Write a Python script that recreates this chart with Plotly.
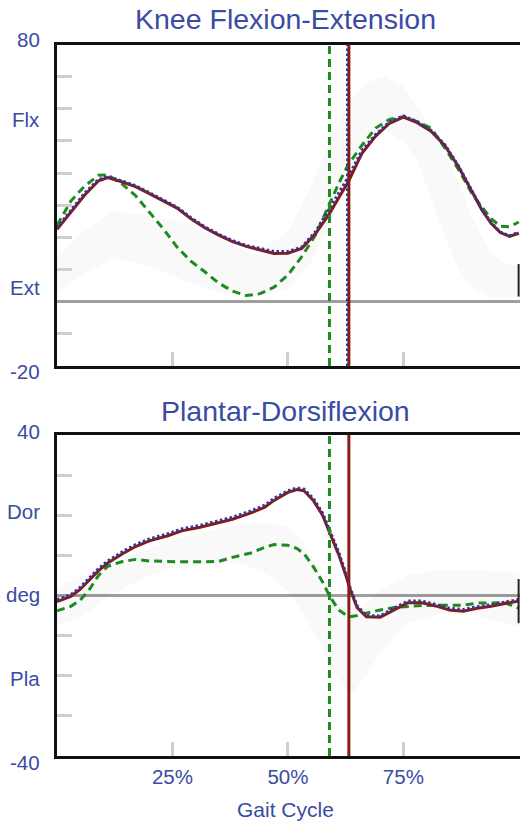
import plotly.graph_objects as go

# ---------------- data ----------------
# Knee flexion-extension (deg) vs gait cycle (%)
knee_x = [0, 3, 6, 9, 11, 14, 17, 20, 23, 26, 29, 32, 35, 38, 41, 44, 47, 50, 53, 56,
          59, 61, 63, 66, 69, 72, 75, 78, 81, 84, 87, 90, 92, 94, 96, 98, 100]
knee_red = [22.5, 27.7, 33.2, 37.6, 38.6, 37.3, 35.8, 33.6, 31.4, 29.1, 25.8, 23.0, 20.7, 18.7,
            17.2, 16.2, 15.0, 15.1, 16.6, 21.2, 27.4, 32.3, 37.1, 46.1, 51.5, 55.5, 57.4, 55.7,
            53.0, 48.5, 41.8, 33.9, 28.5, 24.4, 21.5, 20.3, 21.3]
knee_blue = [23.0, 28.3, 33.8, 38.0, 39.0, 37.6, 36.1, 33.9, 31.7, 29.4, 26.1, 23.3, 21.0, 19.0,
             17.5, 16.5, 15.6, 15.6, 17.0, 21.8, 28.8, 33.8, 38.6, 47.0, 52.0, 55.9, 57.8, 56.0,
             53.3, 48.8, 42.1, 34.2, 28.8, 24.6, 21.6, 20.5, 21.6]
knee_green = [23.8, 31.3, 36.0, 39.3, 39.4, 36.7, 33.0, 28.0, 22.7, 17.0, 12.6, 9.3, 5.8, 3.3,
              1.9, 2.5, 4.5, 8.3, 14.0, 20.8, 30.5, 36.8, 42.5, 48.6, 54.0, 56.7, 57.5, 56.0,
              54.0, 47.8, 41.0, 33.3, 29.5, 25.8, 23.5, 23.3, 24.8]
knee_band_x = [0, 5, 12, 20, 27, 35, 43, 50, 55, 59, 63, 67, 71, 75, 78, 81, 84, 87, 90, 94, 97, 100]
knee_band_hi = [13.9, 21, 28, 27, 25, 19.5, 14.5, 22, 36, 50, 62, 68, 70, 67, 60.5, 54, 46, 37, 26, 15, 12, 11]
knee_band_lo = [2.7, 8, 13.5, 11, 6.8, 3, 1.6, 4, 12, 24, 38, 48, 53, 50, 44, 32, 20, 10, 4, 1.5, 1.2, 1.5]

# Ankle plantar-dorsiflexion (deg)
ankle_x = [0, 3, 5, 7, 9, 11, 14, 17, 20, 24, 27, 31, 35, 38, 42, 45, 47, 50, 52, 53.5, 55.5,
           57.5, 59, 61, 62.5, 63.5, 65, 67, 70, 73, 76, 79, 82, 85, 88, 91, 94, 97, 100]
ankle_red = [-1.5, -0.2, 1.5, 3.9, 6.2, 8.1, 10.3, 12.2, 13.6, 14.9, 16.1, 17.0, 18.1, 19.0, 20.6,
             22.0, 23.7, 25.7, 26.4, 26.1, 23.7, 20.0, 15.8, 10.2, 5.2, 1.4, -3.0, -5.3, -5.4,
             -3.5, -1.8, -1.8, -2.6, -3.6, -3.9, -3.2, -2.7, -2.0, -1.4]
ankle_blue = [-1.0, 0.2, 2.0, 4.4, 6.7, 8.6, 10.8, 12.7, 14.1, 15.4, 16.6, 17.5, 18.6, 19.5, 21.1,
              22.5, 24.2, 26.1, 26.8, 26.5, 24.2, 20.6, 16.4, 10.8, 5.7, 1.8, -2.6, -5.0, -5.1,
              -3.1, -1.4, -1.4, -2.2, -3.2, -3.5, -2.8, -2.3, -1.6, -1.0]
ankle_green = [-3.8, -2.7, -1.2, 1.5, 5.0, 7.3, 8.4, 9.0, 8.6, 8.4, 8.4, 8.4, 8.5, 9.5, 10.6,
               12.0, 12.7, 12.5, 11.7, 10.4, 7.2, 3.4, -0.1, -3.6, -4.8, -5.3, -5.0, -4.4, -3.6,
               -3.0, -2.7, -2.5, -2.4, -2.4, -2.4, -1.9, -1.8, -1.8, -3.2]
ankle_band_x = [0, 5, 11, 18, 25, 33, 40, 46, 50, 53, 56, 59, 62, 64, 67, 70, 76, 83, 90, 100]
ankle_band_hi = [2.2, 4.5, 8, 11, 13.8, 16, 18, 18, 17, 14, 8, 1, -3, -4, -2, 1.5, 5, 6.4, 6.5, 5.6]
ankle_band_lo = [-7.4, -5.5, -0.3, 4, 6.8, 7.8, 8, 5, 1, -4, -10, -17, -23, -24.4, -20, -14, -7, -4.4, -5, -7.8]

# gait events (% cycle)
event_green = 59.0
event_red = 63.2
event_blue = 62.8

x_ticks = [25, 50, 75]
x_ticktext = ["25%", "50%", "75%"]
knee_minor = [-10, 10, 20, 30, 40, 50, 60, 70]
ankle_minor = [-30, -20, -10, 10, 20, 30]
knee_labels = [("80", 81.6), ("Flx", 56.8), ("Ext", 4.3), ("-20", -21.6)]
ankle_labels = [("40", 40.8), ("Dor", 21.0), ("deg", 0.2), ("Pla", -20.7), ("-40", -41.5)]
titles = ["Knee Flexion-Extension", "Plantar-Dorsiflexion"]

# ---------------- style ----------------
RED = "#861c14"
BLUE = "#34349e"
GREEN = "#1f8a1f"
TXT = "#3a4ba3"
BAND = "rgba(0,0,0,0.022)"
FONT = "Liberation Sans, Arial, sans-serif"
DASH = "8px,5px"
DOT = "2.5px,2.5px"

W, H = 520, 822
L = 57
PW = W - L

fig = go.Figure()


def add_panel(xs, red, blue, green, bx, bhi, blo, xa, ya):
    fig.add_trace(go.Scatter(x=bx, y=blo, mode="lines", line=dict(width=0),
                             xaxis=xa, yaxis=ya, hoverinfo="skip"))
    fig.add_trace(go.Scatter(x=bx, y=bhi, mode="lines", line=dict(width=0), fill="tonexty",
                             fillcolor=BAND, xaxis=xa, yaxis=ya, hoverinfo="skip"))
    fig.add_trace(go.Scatter(x=xs, y=green, mode="lines",
                             line=dict(color=GREEN, width=3, dash=DASH), xaxis=xa, yaxis=ya))
    fig.add_trace(go.Scatter(x=xs, y=red, mode="lines",
                             line=dict(color=RED, width=3), xaxis=xa, yaxis=ya))
    fig.add_trace(go.Scatter(x=xs, y=blue, mode="lines",
                             line=dict(color=BLUE, width=3, dash=DOT), xaxis=xa, yaxis=ya))


add_panel(knee_x, knee_red, knee_blue, knee_green, knee_band_x, knee_band_hi, knee_band_lo, "x", "y")
add_panel(ankle_x, ankle_red, ankle_blue, ankle_green, ankle_band_x, ankle_band_hi, ankle_band_lo, "x2", "y2")

XR = [0, PW / 4.618]


def py(px):
    return 1 - px / H


YD1 = [py(366), py(44.5)]
YR1 = [-20, 80]
YD2 = [py(756), py(435)]
YR2 = [-40, 40]


def to_paper(v, dom, rng):
    return dom[0] + (v - rng[0]) / (rng[1] - rng[0]) * (dom[1] - dom[0])


xcommon = dict(range=XR, tickvals=x_ticks, ticks="inside", ticklen=14, tickwidth=3,
               tickcolor="#cfcfcf", showline=True, linewidth=3, linecolor="#111111",
               mirror=True, showgrid=False, zeroline=False, domain=[0, 1])
ycommon = dict(ticks="inside", ticklen=15, tickwidth=3, tickcolor="#cfcfcf",
               showticklabels=False, showline=True, linewidth=3, linecolor="#111111",
               showgrid=False, zeroline=True, zerolinecolor="#9e9e9e", zerolinewidth=3)

fig.update_layout(
    width=W, height=H,
    margin=dict(l=L, r=0, t=0, b=0),
    paper_bgcolor="white", plot_bgcolor="white",
    showlegend=False,
    font=dict(family=FONT, color=TXT),
    xaxis=dict(anchor="y", showticklabels=False, **xcommon),
    yaxis=dict(anchor="x", domain=YD1, range=YR1, tickvals=knee_minor, **ycommon),
    xaxis2=dict(anchor="y2", showticklabels=True, ticktext=x_ticktext,
                tickfont=dict(size=20.5, color=TXT, family=FONT), **xcommon),
    yaxis2=dict(anchor="x2", domain=YD2, range=YR2, tickvals=ankle_minor, **ycommon),
)

shapes = []
for xa, ya, blue_on in (("x", "y", True), ("x2", "y2", False)):
    shapes.append(dict(type="line", xref=xa, yref=ya + " domain", x0=event_green, x1=event_green,
                       y0=0, y1=1, line=dict(color=GREEN, width=3, dash=DASH), layer="above"))
    shapes.append(dict(type="line", xref=xa, yref=ya + " domain", x0=event_red, x1=event_red,
                       y0=0, y1=1, line=dict(color=RED, width=3), layer="above"))
    if blue_on:
        shapes.append(dict(type="line", xref=xa, yref=ya + " domain", x0=event_blue, x1=event_blue,
                           y0=0, y1=1, line=dict(color=BLUE, width=2, dash=DOT), layer="above"))
# small end markers on the right edge
shapes.append(dict(type="line", xref="paper", yref="y", x0=0.997, x1=0.997, y0=1.6, y1=11.7,
                   line=dict(color="#222", width=2)))
shapes.append(dict(type="line", xref="paper", yref="y2", x0=0.997, x1=0.997, y0=-6.9, y1=4.1,
                   line=dict(color="#222", width=2)))
fig.update_layout(shapes=shapes)

ann = []
lx = (42 - L) / PW
for labels, dom, rng in ((knee_labels, YD1, YR1), (ankle_labels, YD2, YR2)):
    for t, v in labels:
        ann.append(dict(text=t, x=lx, xref="paper", y=to_paper(v, dom, rng), yref="paper",
                        xanchor="right", yanchor="middle", showarrow=False,
                        font=dict(size=20.5, color=TXT, family=FONT)))
ann.append(dict(text=titles[0], x=(285 - L) / PW, xref="paper", y=py(19), yref="paper",
                xanchor="center", yanchor="middle", showarrow=False,
                font=dict(size=28.5, color=TXT, family=FONT)))
ann.append(dict(text=titles[1], x=(285.5 - L) / PW, xref="paper", y=py(410.5), yref="paper",
                xanchor="center", yanchor="middle", showarrow=False,
                font=dict(size=28.5, color=TXT, family=FONT)))
ann.append(dict(text="Gait Cycle", x=(285.3 - L) / PW, xref="paper", y=py(809), yref="paper",
                xanchor="center", yanchor="middle", showarrow=False,
                font=dict(size=21, color=TXT, family=FONT)))
fig.update_layout(annotations=ann)

fig.write_html("out.html")
